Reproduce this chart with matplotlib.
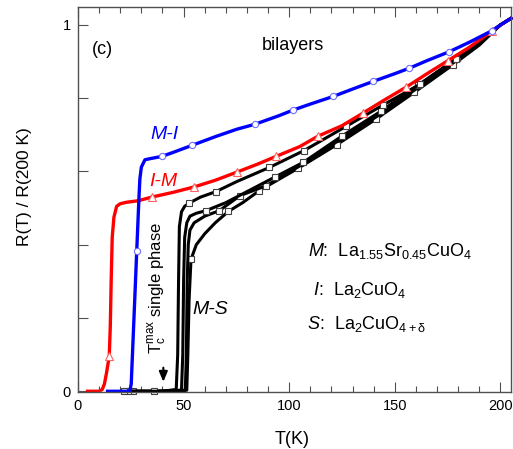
import matplotlib
matplotlib.use("Agg")
import matplotlib.pyplot as plt
from matplotlib.ticker import MultipleLocator, FixedLocator, FixedFormatter

plt.rcParams['font.family'] = ['Liberation Sans', 'DejaVu Sans']
plt.rcParams['mathtext.fontset'] = 'custom'
plt.rcParams['mathtext.rm'] = 'Liberation Sans'
plt.rcParams['mathtext.it'] = 'Liberation Sans:italic'
plt.rcParams['mathtext.bf'] = 'Liberation Sans:bold'

# ---------------- data ----------------
# Blue  M-I
T_MI = [14, 24.5, 25.2, 26.5, 27.8, 28.9, 29.3, 30, 31.7, 35, 39.6, 45, 53.8, 65, 75,
        83.8, 95, 102, 110, 120.9, 130, 139.8, 150, 156.9, 165, 175.8, 185, 195.9, 200, 205]
R_MI = [0, 0, 0.02, 0.2, 0.382, 0.534, 0.58, 0.612, 0.632, 0.636, 0.641, 0.652, 0.671, 0.695, 0.715,
        0.729, 0.752, 0.768, 0.784, 0.805, 0.825, 0.846, 0.867, 0.882, 0.902, 0.927, 0.952, 0.984, 1.0, 1.018]
M_MI = [4, 10, 12, 15, 17, 19, 21, 23, 25, 27]

# Red  I-M
T_IM = [4.5, 10, 11.5, 12.5, 13.5, 14.8, 15.3, 15.7, 16.2, 17, 18.3, 20, 23, 28.4, 34.9, 45, 55.1,
        65, 75.1, 85, 93.7, 105, 113.5, 125, 134.8, 145, 155.3, 165, 175, 185, 195.9, 200, 205]
R_IM = [0, 0, 0.005, 0.02, 0.05, 0.096, 0.18, 0.3, 0.42, 0.475, 0.505, 0.512, 0.516, 0.52, 0.53, 0.543, 0.558,
        0.576, 0.598, 0.62, 0.641, 0.668, 0.696, 0.725, 0.759, 0.795, 0.830, 0.866, 0.902, 0.938, 0.983, 1.0, 1.018]
M_IM = [5, 14, 16, 18, 20, 22, 24, 26, 28, 30]

# Black  M-S (four samples)
T_A = [22, 30, 40, 46.5, 47.2, 47.6, 48, 49, 50.5, 52.7, 58, 65.3, 75, 90.6, 107, 126.9, 144.6, 161.9, 179, 190, 200, 205]
R_A = [0, 0, 0, 0.005, 0.1, 0.3, 0.45, 0.49, 0.505, 0.514, 0.53, 0.545, 0.572, 0.611, 0.657, 0.723, 0.782, 0.838, 0.907, 0.95, 1.0, 1.018]
M_A = [0, 9, 11, 13, 14, 15, 16, 17, 18]

T_B = [22, 36.1, 49, 49.6, 50, 50.5, 51.5, 53, 56, 60.6, 70, 80, 93.3, 106.7, 124.8, 143.3, 161.1, 179.3, 190, 200, 205]
R_B = [0, 0, 0.003, 0.1, 0.3, 0.42, 0.46, 0.478, 0.486, 0.493, 0.515, 0.545, 0.585, 0.625, 0.696, 0.764, 0.836, 0.909, 0.952, 1.0, 1.018]
M_B = [1, 9, 12, 13, 14, 15, 16, 17]

T_C = [23.8, 40, 50.8, 51.3, 51.7, 52.2, 53, 55, 60, 66.9, 76.7, 89, 105, 123, 142, 160, 178.5, 190, 200, 205]
R_C = [0, 0, 0.003, 0.1, 0.3, 0.4, 0.44, 0.46, 0.478, 0.493, 0.534, 0.561, 0.615, 0.683, 0.752, 0.825, 0.9, 0.948, 1.0, 1.018]
M_C = [0, 9, 10, 11]

T_D = [25.9, 40, 48.8, 51.5, 52, 52.6, 53.5, 56, 60, 65, 71.2, 78, 85.9, 104.3, 122.5, 141.1, 159.2, 177.7, 190, 200, 205]
R_D = [0, 0, 0.0, 0.003, 0.1, 0.25, 0.36, 0.4, 0.43, 0.46, 0.491, 0.515, 0.548, 0.609, 0.673, 0.743, 0.816, 0.892, 0.945, 1.0, 1.018]
M_D = [0, 6, 10, 12, 13, 14, 15, 16, 17]

# ---------------- figure ----------------
fig = plt.figure(figsize=(5.13, 4.49), dpi=100)
ax = fig.add_axes([78/513, 1-392/449, 433/513, 385/449])
ax.set_xlim(0, 205)
ax.set_ylim(-0.002, 1.049)

frame = '#505050'
for s in ax.spines.values():
    s.set_color(frame)
    s.set_linewidth(1.0)

sq = dict(marker='s', ms=5, mfc='white', mec='#404040', mew=0.8)
for T, R, M in [(T_D, R_D, M_D), (T_C, R_C, M_C), (T_B, R_B, M_B), (T_A, R_A, M_A)]:
    ax.plot(T, R, color='black', lw=2.2, markevery=M, clip_on=False, **sq)

ax.plot(T_IM, R_IM, color='#ff0000', lw=2.4, marker='^', ms=6, mfc='white',
        mec='#ff6060', mew=0.8, markevery=M_IM, clip_on=False)
ax.plot(T_MI, R_MI, color='#0000ff', lw=2.4, marker='o', ms=4.5, mfc='white',
        mec='#7070ff', mew=0.8, markevery=M_MI, clip_on=False)

# ticks
ax.xaxis.set_major_locator(MultipleLocator(50))
ax.xaxis.set_minor_locator(MultipleLocator(10))
ax.yaxis.set_major_locator(FixedLocator([0, 0.2, 0.4, 0.6, 0.8, 1.0]))
ax.yaxis.set_major_formatter(FixedFormatter(['0', '', '', '', '', '1']))
ax.tick_params(axis='x', which='major', direction='in', top=True, length=7, width=0.8,
               color=frame, labelsize=10.5, pad=5)
ax.tick_params(axis='x', which='minor', direction='in', top=True, length=4, width=0.8, color=frame)
ax.tick_params(axis='y', which='major', direction='in', right=False, length=7, width=0.8,
               color=frame, labelsize=10.5, pad=5)

fig.text(292/513, 1-440/449, 'T(K)', ha='center', va='center', fontsize=13)
fig.text(25/513, 1-187/449, 'R(T) / R(200 K)', ha='center', va='center', rotation=90, fontsize=12.5)

# annotations
ax.text(11.8, 0.932, '(c)', ha='center', va='center', fontsize=13)
ax.text(101.6, 0.943, 'bilayers', ha='center', va='center', fontsize=13)
ax.text(41, 0.70, 'M-I', ha='center', va='center', fontsize=14, style='italic', color='#0000ff')
ax.text(40.5, 0.572, 'I-M', ha='center', va='center', fontsize=14, style='italic', color='#ff0000')
ax.text(62.7, 0.223, 'M-S', ha='center', va='center', fontsize=14, style='italic', color='black')
ax.text(37.9, 0.283, r'T$_\mathrm{c}^\mathrm{max}$ single phase', ha='center', va='center',
        rotation=90, fontsize=12)
ax.annotate('', xy=(40.4, 0.018), xytext=(40.4, 0.072),
            arrowprops=dict(arrowstyle='-|>,head_width=0.25,head_length=0.6', color='black', lw=1.5))

ax.text(108.7, 0.368, r'$\mathit{M}$:  La$_{1.55}$Sr$_{0.45}$CuO$_4$', ha='left', va='baseline', fontsize=13)
ax.text(111.4, 0.264, r'$\mathit{I}$:  La$_2$CuO$_4$', ha='left', va='baseline', fontsize=13)
ax.text(108.6, 0.169, r'$\mathit{S}$:  La$_2$CuO$_{4+\mathrm{δ}}$', ha='left', va='baseline', fontsize=13)

fig.savefig('out.png', dpi=100)
